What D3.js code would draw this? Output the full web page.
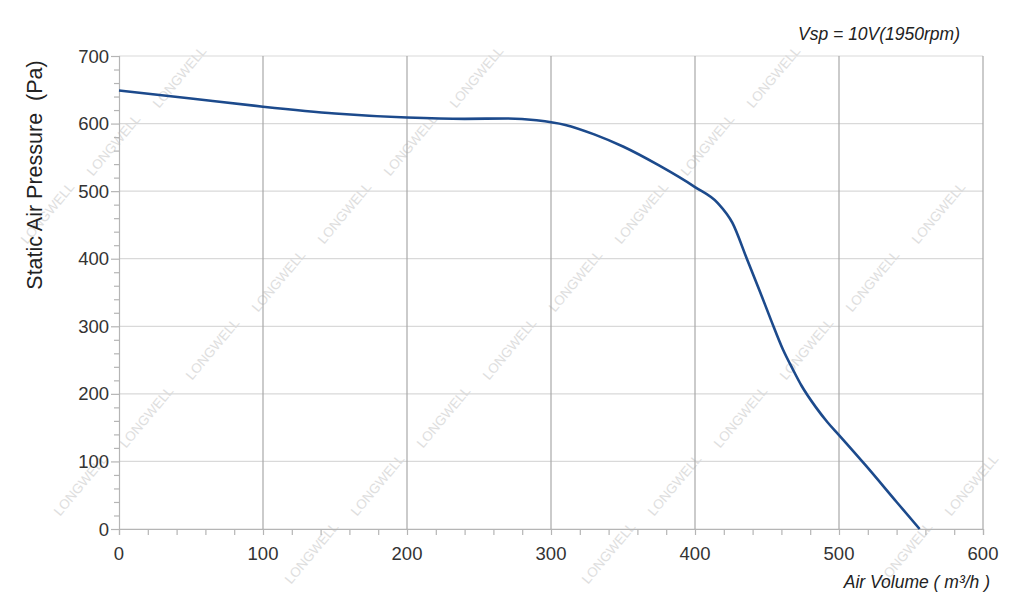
<!DOCTYPE html>
<html><head><meta charset="utf-8">
<script src="https://cdn.jsdelivr.net/npm/d3@7"></script>
<style>
html,body{margin:0;padding:0;background:#fff;}
svg{display:block;font-family:"Liberation Sans",Arial,sans-serif;}
</style></head>
<body>
<svg id="c" width="1024" height="616"></svg>
<script>
const airVolume = [0,50,100,150,200,240,270,290,310,330,350,375,400,416,426,436,445,453,461,468,474,484,492,500,519,540,556];
const pressure  = [649,637,625,615,609,607,607.5,605,598,584,566,538,506,482,453,400,352,308,266,236,212,180,158,139,93,40,0];
const xTicks = [0,100,200,300,400,500,600];
const yTicks = [0,100,200,300,400,500,600,700];
const titleText = "Vsp = 10V(1950rpm)";
const xLabel = "Air Volume ( m³/h )";
const yLabel = "Static Air Pressure\u00a0 (Pa)";
const watermark = "LONGWELL";

const svg = d3.select("#c");
const L=119, R=983, T=56, B=529;
const x = d3.scaleLinear().domain([0,600]).range([L,R]);
const y = d3.scaleLinear().domain([0,700]).range([B,T]);

// watermarks
const wm = svg.append("g");
for (let i=-4;i<6;i++){
  for (let j=-2;j<12;j++){
    const px = 480 + i*297 - j*66;
    const py = 80 + j*68;
    if (px<30||px>995||py<30||py>590) continue;
    wm.append("text").attr("x",px).attr("y",py)
      .attr("transform",`rotate(-50,${px},${py})`)
      .attr("text-anchor","middle").attr("font-size",13.5)
      .attr("fill","#dedede").text(watermark);
  }
}

// grid
svg.append("g").selectAll("line").data(yTicks).join("line")
  .attr("x1",L).attr("x2",R).attr("y1",d=>y(d)).attr("y2",d=>y(d))
  .attr("stroke","#d9d9d9").attr("stroke-width",1.2);
svg.append("g").selectAll("line").data(xTicks.slice(1)).join("line")
  .attr("x1",d=>x(d)).attr("x2",d=>x(d)).attr("y1",T).attr("y2",B)
  .attr("stroke","#a8a8a8").attr("stroke-width",1.2);

// axes
const xAxis = svg.append("g").attr("transform",`translate(0,${B})`)
  .call(d3.axisBottom(x).tickValues(d3.range(0,601,20)).tickSize(6).tickFormat(""));
const yAxis = svg.append("g").attr("transform",`translate(${L},0)`)
  .call(d3.axisLeft(y).tickValues(d3.range(0,701,20)).tickSize(5).tickFormat(""));
[xAxis,yAxis].forEach(a=>{a.select(".domain").attr("stroke","#b5b5b5").attr("stroke-width",1.2);
  a.selectAll(".tick line").attr("stroke","#b5b5b5").attr("stroke-width",1.2);});
yAxis.selectAll(".tick line").filter(d=>d%100===0).attr("x2",-8);

svg.append("g").selectAll("text").data(xTicks).join("text")
  .attr("x",d=>x(d)).attr("y",B+31).attr("text-anchor","middle")
  .attr("font-size",18.5).attr("fill","#333").text(d=>d);
svg.append("g").selectAll("text").data(yTicks).join("text")
  .attr("x",L-10).attr("y",d=>y(d)+6.5).attr("text-anchor","end")
  .attr("font-size",18.5).attr("fill","#333").text(d=>d);

// curve
const pts = airVolume.map((v,i)=>[v,pressure[i]]);
svg.append("path").datum(pts)
  .attr("d",d3.line().x(d=>x(d[0])).y(d=>y(d[1])).curve(d3.curveMonotoneX))
  .attr("fill","none").attr("stroke","#1c4a8c").attr("stroke-width",2.6);

// labels
svg.append("text").attr("x",960).attr("y",40).attr("text-anchor","end")
  .attr("font-size",17.5).attr("font-style","italic").attr("fill","#222").text(titleText);
svg.append("text").attr("x",990).attr("y",588).attr("text-anchor","end")
  .attr("font-size",17.5).attr("font-style","italic").attr("fill","#222").text(xLabel);
svg.append("text").attr("transform","translate(42,175) rotate(-90)").attr("text-anchor","middle")
  .attr("font-size",21.5).attr("fill","#222").text(yLabel);
</script>
</body></html>
